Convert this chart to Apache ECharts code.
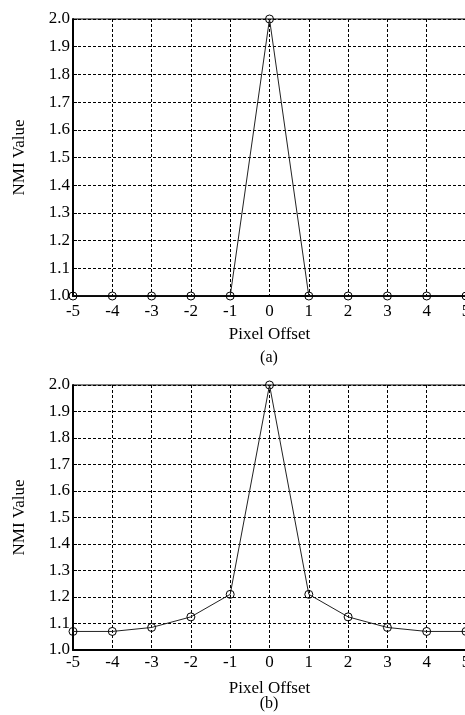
<!DOCTYPE html>
<html>
<head>
<meta charset="utf-8">
<script src="https://cdn.jsdelivr.net/npm/echarts@6/dist/echarts.min.js"></script>
<style>
  html, body { margin: 0; padding: 0; background: #fff; }
  #chart { width: 465px; height: 715px; }
</style>
</head>
<body>
<div id="chart"></div>
<script>
// Pixel offsets along the x axis
var offsets = [-5, -4, -3, -2, -1, 0, 1, 2, 3, 4, 5];
// NMI value per offset, panel (a) and panel (b)
var nmiA = [1.0, 1.0, 1.0, 1.0, 1.0, 2.0, 1.0, 1.0, 1.0, 1.0, 1.0];
var nmiB = [1.07, 1.07, 1.085, 1.125, 1.21, 2.0, 1.21, 1.125, 1.085, 1.07, 1.07];
var panelCaptions = ['(a)', '(b)'];

var FONT = '"Liberation Serif", "DejaVu Serif", serif';

function pairs(xs, ys) {
  return xs.map(function (x, i) { return [x, ys[i]]; });
}

var gridLine = { show: true, lineStyle: { color: '#000', width: 1, type: [3, 2] } };

function xAxisFor(gridIndex, labelMargin) {
  return {
    type: 'value', gridIndex: gridIndex, min: -5, max: 5, interval: 1,
    name: 'Pixel Offset', nameLocation: 'middle', nameGap: 30,
    nameTextStyle: { fontFamily: FONT, fontSize: 17, color: '#000' },
    axisLine: { show: true, onZero: false, lineStyle: { color: '#000', width: 2 } },
    axisTick: { show: false },
    axisLabel: { fontFamily: FONT, fontSize: 17, color: '#000', margin: labelMargin },
    splitLine: gridLine
  };
}

function yAxisFor(gridIndex) {
  return {
    type: 'value', gridIndex: gridIndex, min: 1.0, max: 2.0, interval: 0.1,
    name: 'NMI Value', nameLocation: 'middle', nameGap: 45,
    nameTextStyle: { fontFamily: FONT, fontSize: 17, color: '#000' },
    axisLine: { show: true, onZero: false, lineStyle: { color: '#000', width: 2 } },
    axisTick: { show: true, inside: true, length: 4, lineStyle: { color: '#000' } },
    axisLabel: {
      fontFamily: FONT, fontSize: 17, color: '#000', margin: 3,
      formatter: function (v) { return v.toFixed(1); }
    },
    splitLine: gridLine
  };
}

function lineSeries(idx, values) {
  return {
    type: 'line', xAxisIndex: idx, yAxisIndex: idx,
    data: pairs(offsets, values),
    symbol: 'circle', symbolSize: 8,
    lineStyle: { color: '#222', width: 1 },
    itemStyle: { color: 'rgba(0,0,0,0)', borderColor: '#000', borderWidth: 1 },
    emphasis: { disabled: true },
    z: 3
  };
}

var chart = echarts.init(document.getElementById('chart'), null, { renderer: 'canvas' });
chart.setOption({
  backgroundColor: '#fff',
  animation: false,
  grid: [
    { left: 73, top: 19, width: 393, height: 277, outerBoundsMode: 'none', containLabel: false, show: true, borderColor: '#000', borderWidth: 1, backgroundColor: 'transparent' },
    { left: 73, top: 385, width: 393, height: 265, outerBoundsMode: 'none', containLabel: false, show: true, borderColor: '#000', borderWidth: 1, backgroundColor: 'transparent' }
  ],
  xAxis: [xAxisFor(0, 7), xAxisFor(1, 4)],
  yAxis: [yAxisFor(0), yAxisFor(1)],
  series: [lineSeries(0, nmiA), lineSeries(1, nmiB)],
  graphic: [
    { type: 'text', x: 269, y: 358, style: { text: panelCaptions[0], font: '16px ' + FONT, fill: '#000', textAlign: 'center', textVerticalAlign: 'middle' } },
    { type: 'text', x: 269, y: 704, style: { text: panelCaptions[1], font: '16px ' + FONT, fill: '#000', textAlign: 'center', textVerticalAlign: 'middle' } }
  ]
});
</script>
</body>
</html>
